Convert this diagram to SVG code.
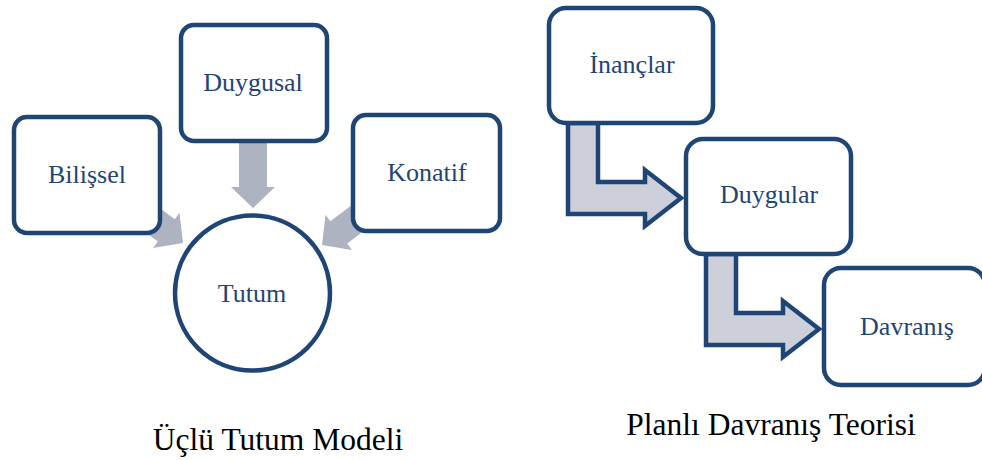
<svg xmlns="http://www.w3.org/2000/svg" width="982" height="460" viewBox="0 0 982 460">
  <style>
    .box { fill: #ffffff; stroke: #1f4575; stroke-width: 4.5; }
    .lbl { font-family: "Liberation Serif", "Times New Roman", serif; font-size: 26px; fill: #1f4575; text-anchor: middle; }
    .cap { font-family: "Liberation Serif", "Times New Roman", serif; font-size: 31.5px; fill: #000000; text-anchor: middle; }
    .flow { fill: #aeb3c1; }
    .bent { fill: #cdd0da; stroke: #1f4575; stroke-width: 4.5; stroke-linejoin: miter; }
  </style>
  <defs>
    <!-- block arrow pointing down, tip at origin -->
    <polygon id="blockArrow" points="-14,-70 14,-70 14,-21 22,-21 0,0 -22,-21 -14,-21"/>
  </defs>

  <!-- connectors -->
  <g id="connectors">
    <use href="#blockArrow" class="flow" transform="translate(253,208)"/>
    <use href="#blockArrow" class="flow" transform="translate(183,243) rotate(-53)"/>
    <use href="#blockArrow" class="flow" transform="translate(322,245) rotate(53)"/>
    <polygon class="bent" points="568,123 598,123 598,182 645,182 645,170 681,198 645,226 645,214 568,214"/>
    <polygon class="bent" points="706,254 736,254 736,313 783,313 783,301 819,329 783,357 783,345 706,345"/>
  </g>

  <!-- three-component attitude model -->
  <g id="node-bilissel">
    <rect class="box" x="14" y="117" width="146" height="116" rx="13"/>
    <text class="lbl" x="87" y="183">Bilişsel</text>
  </g>
  <g id="node-duygusal">
    <rect class="box" x="181" y="25" width="146" height="116" rx="13"/>
    <text class="lbl" x="253" y="91">Duygusal</text>
  </g>
  <g id="node-konatif">
    <rect class="box" x="353" y="115" width="147" height="116" rx="13"/>
    <text class="lbl" x="427" y="181">Konatif</text>
  </g>
  <g id="node-tutum">
    <circle class="box" cx="252.5" cy="293" r="77.5"/>
    <text class="lbl" x="252" y="302">Tutum</text>
  </g>

  <!-- planned behaviour chain -->
  <g id="node-inanclar">
    <rect class="box" x="549" y="8" width="164" height="115" rx="17"/>
    <text class="lbl" x="632" y="73">İnançlar</text>
  </g>
  <g id="node-duygular">
    <rect class="box" x="686" y="139" width="165" height="115" rx="17"/>
    <text class="lbl" x="769" y="203">Duygular</text>
  </g>
  <g id="node-davranis">
    <rect class="box" x="824" y="268" width="161" height="117" rx="17"/>
    <text class="lbl" x="907" y="335">Davranış</text>
  </g>

  <!-- captions -->
  <text class="cap" x="278" y="450">Üçlü Tutum Modeli</text>
  <text class="cap" x="771" y="435">Planlı Davranış Teorisi</text>
</svg>
